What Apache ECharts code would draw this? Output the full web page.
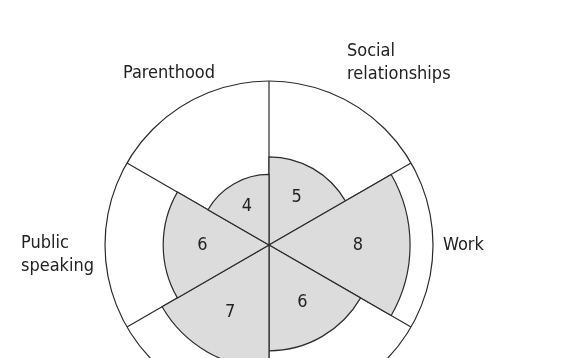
<!DOCTYPE html>
<html><head><meta charset="utf-8">
<script src="https://cdn.jsdelivr.net/npm/echarts@6/dist/echarts.min.js"></script>
<style>html,body{margin:0;padding:0;background:#fff}#c{width:579px;height:358px}</style>
</head><body><div id="c"></div>
<script>
// ---- data ----
const categories = ['Social relationships', 'Work', 'Health', 'Romance', 'Public speaking', 'Parenthood'];
const scores = [5, 8, 6, 7, 6, 4];
const scaleMax = 9.3;

// ---- layout / style ----
const CX = 269, CY = 245, RADIUS = 164, LABEL_MARGIN = -56;
const PX_PER_UNIT = RADIUS / scaleMax;
const INNER_LABEL_EXTRA = 0.13; // push value labels outward beyond the sector middle
const labelPad = {
  'Social relationships': [0, 0, 66, 24],
  'Work': [0, 0, 0, 66],
  'Health': [120, 0, 0, 0],
  'Romance': [120, 0, 0, 0],
  'Public speaking': [19, 67, 0, 0],
  'Parenthood': [0, 0, 67, 0]
};
const FONT = '"DejaVu Sans Condensed", "Liberation Sans", Arial, sans-serif';
const LINE = '#2b2b2b';
const TEXT = '#222';

const chart = echarts.init(document.getElementById('c'), null, {renderer: 'canvas'});
const n = categories.length;
chart.setOption({
  backgroundColor: '#fff',
  animation: false,
  polar: {center: [CX, CY], radius: RADIUS},
  radiusAxis: {type: 'value', min: 0, max: scaleMax, show: false},
  angleAxis: {
    type: 'category',
    startAngle: 90,
    clockwise: true,
    data: categories.map(c => ({value: c, textStyle: {padding: labelPad[c]}})),
    axisLine: {show: true, lineStyle: {color: LINE, width: 1.2}},
    axisTick: {show: false},
    splitLine: {show: true, lineStyle: {color: LINE, width: 1.2}},
    axisLabel: {
      margin: LABEL_MARGIN,
      formatter: v => v.split(' ').map(w => '{a|' + w + '}').join('\n'),
      rich: {a: {fontSize: 18, lineHeight: 23, fontFamily: FONT, color: TEXT, align: 'left'}}
    }
  },
  series: [{
    type: 'bar',
    coordinateSystem: 'polar',
    barCategoryGap: '0%',
    itemStyle: {color: '#dcdcdc', borderColor: LINE, borderWidth: 1.2},
    label: {show: true, position: 'middle', rotate: 0, fontSize: 18, fontFamily: FONT, color: TEXT},
    data: scores.map((v, i) => {
      const ang = (90 - 360 / n * (i + 0.5)) * Math.PI / 180;
      const d = v * PX_PER_UNIT * INNER_LABEL_EXTRA;
      return {value: v, label: {offset: [d * Math.cos(ang), -d * Math.sin(ang)]}};
    })
  }]
});
</script></body></html>
